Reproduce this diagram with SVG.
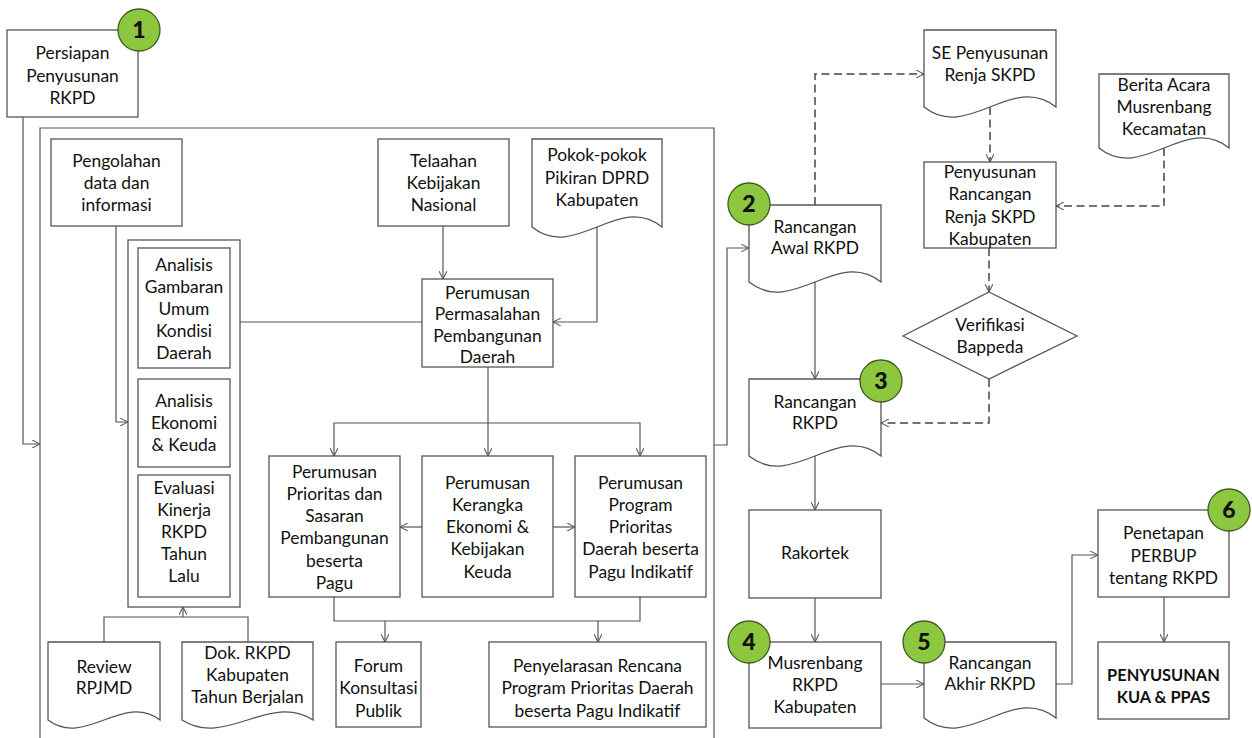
<svg xmlns="http://www.w3.org/2000/svg" width="1252" height="738" viewBox="0 0 1252 738">
<style>
.box{fill:#fff;stroke:#555;stroke-width:1.3}
.t{font-family:Lato,"Open Sans",sans-serif;font-size:17.4px;fill:#111;text-anchor:middle}
.b{font-weight:bold;font-size:16.4px}
.c{fill:#8dc63f;stroke:#3a5a1f;stroke-width:1.3}
.n{font-family:Lato,"Open Sans",sans-serif;font-weight:900;font-size:23px;text-anchor:middle;fill:#111}
.ln{fill:none;stroke:#555;stroke-width:1.2}
.ar{marker-end:url(#a)}
.d{stroke-dasharray:8 4.5;stroke:#444;stroke-width:1.5}
</style>
<defs>
<marker id="a" viewBox="0 0 10 10" refX="10" refY="5" markerWidth="8" markerHeight="8" markerUnits="userSpaceOnUse" orient="auto"><path d="M0,0 L10,5 L0,10" fill="none" stroke="#555" stroke-width="1.3"/></marker>
</defs>
<rect width="1252" height="738" fill="#fff"/>

<g id="container"><path class="ln" d="M40,745 V128 H714 V745" stroke-width="1.3"/></g>
<g id="inner-group"><rect class="box" x="128" y="240" width="112" height="367"/></g>

<g id="connectors">
<path class="ln ar" d="M23,117 V444 H40"/>
<path class="ln ar" d="M116,226 V422 H128"/>
<path class="ln" d="M240,322 H422"/>
<path class="ln ar" d="M443,226 V279"/>
<path class="ln ar" d="M597,224 V322 H553"/>
<path class="ln ar" d="M488,367 V456"/>
<path class="ln ar" d="M488,423 H334 V456"/>
<path class="ln ar" d="M488,423 H640 V456"/>
<path class="ln ar" d="M422,527 H400"/>
<path class="ln ar" d="M553,527 H575"/>
<path class="ln" d="M334,597 V621 H640 V597"/>
<path class="ln ar" d="M385,621 V642"/>
<path class="ln ar" d="M598,621 V642"/>
<path class="ln" d="M104,642 V617 H248 V642"/>
<path class="ln ar" d="M183,617 V607"/>
<path class="ln ar" d="M714,445 H727 V248 H749"/>
<path class="ln ar d" d="M815,205 V74 H924"/>
<path class="ln ar d" d="M990,107 V162"/>
<path class="ln ar d" d="M1164,148 V206 H1056"/>
<path class="ln ar d" d="M989,248 V292"/>
<path class="ln ar d" d="M989,379 V423 H881"/>
<path class="ln ar" d="M815,282 V379"/>
<path class="ln ar" d="M815,456 V510"/>
<path class="ln ar" d="M815,598 V642"/>
<path class="ln ar" d="M881,684 H924"/>
<path class="ln ar" d="M1056,684 H1072 V555 H1098"/>
<path class="ln ar" d="M1164,597 V642"/>
</g>

<g id="persiapan"><rect class="box" x="7" y="30" width="131" height="87"/>
<text class="t"><tspan x="72.5" y="59">Persiapan</tspan><tspan x="72.5" y="82">Penyusunan</tspan><tspan x="72.5" y="104">RKPD</tspan></text>
<circle class="c" cx="139" cy="30" r="21"/><text class="n" x="139" y="38">1</text></g>

<g id="pengolahan"><rect class="box" x="51" y="139" width="131" height="87"/>
<text class="t"><tspan x="116.5" y="167">Pengolahan</tspan><tspan x="116.5" y="189">data dan</tspan><tspan x="116.5" y="211">informasi</tspan></text></g>

<g id="telaahan"><rect class="box" x="378" y="139" width="131" height="87"/>
<text class="t"><tspan x="443.5" y="167">Telaahan</tspan><tspan x="443.5" y="189">Kebijakan</tspan><tspan x="443.5" y="211">Nasional</tspan></text></g>

<g id="pokok"><path class="box" d="M532,139 H662 V227 C618.7,192 575.3,262 532,227 Z"/>
<text class="t"><tspan x="597" y="161">Pokok-pokok</tspan><tspan x="597" y="184">Pikiran DPRD</tspan><tspan x="597" y="206">Kabupaten</tspan></text></g>

<g id="permasalahan"><rect class="box" x="422" y="279" width="131" height="88"/>
<text class="t"><tspan x="487.5" y="299">Perumusan</tspan><tspan x="487.5" y="320">Permasalahan</tspan><tspan x="487.5" y="342">Pembangunan</tspan><tspan x="487.5" y="363">Daerah</tspan></text></g>

<g id="gambaran"><rect class="box" x="138" y="248" width="92" height="120"/>
<text class="t"><tspan x="184" y="271">Analisis</tspan><tspan x="184" y="293">Gambaran</tspan><tspan x="184" y="315">Umum</tspan><tspan x="184" y="337">Kondisi</tspan><tspan x="184" y="359">Daerah</tspan></text></g>

<g id="ekonomi"><rect class="box" x="138" y="379" width="92" height="88"/>
<text class="t"><tspan x="184" y="407">Analisis</tspan><tspan x="184" y="429">Ekonomi</tspan><tspan x="184" y="451">&amp; Keuda</tspan></text></g>

<g id="evaluasi"><rect class="box" x="138" y="475" width="92" height="122"/>
<text class="t"><tspan x="184" y="494">Evaluasi</tspan><tspan x="184" y="516">Kinerja</tspan><tspan x="184" y="538">RKPD</tspan><tspan x="184" y="560">Tahun</tspan><tspan x="184" y="582">Lalu</tspan></text></g>

<g id="prioritas"><rect class="box" x="269" y="456" width="131" height="141"/>
<text class="t"><tspan x="334.5" y="478">Perumusan</tspan><tspan x="334.5" y="500">Prioritas dan</tspan><tspan x="334.5" y="522">Sasaran</tspan><tspan x="334.5" y="544">Pembangunan</tspan><tspan x="334.5" y="567">beserta</tspan><tspan x="334.5" y="589">Pagu</tspan></text></g>

<g id="kerangka"><rect class="box" x="422" y="456" width="131" height="141"/>
<text class="t"><tspan x="487.5" y="489">Perumusan</tspan><tspan x="487.5" y="511">Kerangka</tspan><tspan x="487.5" y="533">Ekonomi &amp;</tspan><tspan x="487.5" y="555">Kebijakan</tspan><tspan x="487.5" y="578">Keuda</tspan></text></g>

<g id="program"><rect class="box" x="575" y="456" width="131" height="141"/>
<text class="t"><tspan x="640.5" y="489">Perumusan</tspan><tspan x="640.5" y="511">Program</tspan><tspan x="640.5" y="533">Prioritas</tspan><tspan x="640.5" y="555">Daerah beserta</tspan><tspan x="640.5" y="578">Pagu Indikatif</tspan></text></g>

<g id="review"><path class="box" d="M48,642 H160 V720 C122.7,692 85.3,748 48,720 Z"/>
<text class="t"><tspan x="104" y="673">Review</tspan><tspan x="104" y="694">RPJMD</tspan></text></g>

<g id="dok"><path class="box" d="M182,642 H313 V720 C269.3,692 225.7,748 182,720 Z"/>
<text class="t"><tspan x="247.5" y="659">Dok. RKPD</tspan><tspan x="247.5" y="681">Kabupaten</tspan><tspan x="247.5" y="703">Tahun Berjalan</tspan></text></g>

<g id="forum"><rect class="box" x="336" y="642" width="85" height="85"/>
<text class="t"><tspan x="378.5" y="672">Forum</tspan><tspan x="378.5" y="694">Konsultasi</tspan><tspan x="378.5" y="717">Publik</tspan></text></g>

<g id="penyelarasan"><rect class="box" x="489" y="642" width="217" height="85"/>
<text class="t"><tspan x="597.5" y="672">Penyelarasan Rencana</tspan><tspan x="597.5" y="694">Program Prioritas Daerah</tspan><tspan x="597.5" y="717">beserta Pagu Indikatif</tspan></text></g>

<g id="rancangan-awal"><path class="box" d="M749,205 H881 V282 C837,247 793,317 749,282 Z"/>
<text class="t"><tspan x="815" y="233">Rancangan</tspan><tspan x="815" y="254">Awal RKPD</tspan></text>
<circle class="c" cx="749" cy="204" r="21"/><text class="n" x="749" y="212">2</text></g>

<g id="se"><path class="box" d="M924,30 H1056 V107 C1012,72 968,142 924,107 Z"/>
<text class="t"><tspan x="990" y="59">SE Penyusunan</tspan><tspan x="990" y="81">Renja SKPD</tspan></text></g>

<g id="berita"><path class="box" d="M1099,74 H1229 V148 C1185.7,113 1142.3,183 1099,148 Z"/>
<text class="t"><tspan x="1164" y="91">Berita Acara</tspan><tspan x="1164" y="113">Musrenbang</tspan><tspan x="1164" y="135">Kecamatan</tspan></text></g>

<g id="renja"><rect class="box" x="924" y="162" width="132" height="86"/>
<text class="t"><tspan x="990" y="178">Penyusunan</tspan><tspan x="990" y="200">Rancangan</tspan><tspan x="990" y="223">Renja SKPD</tspan><tspan x="990" y="245">Kabupaten</tspan></text></g>

<g id="verifikasi"><path class="box" d="M989,292 L1077,336 L989,379 L903,336 Z"/>
<text class="t"><tspan x="990" y="331">Verifikasi</tspan><tspan x="990" y="353">Bappeda</tspan></text></g>

<g id="rancangan-rkpd"><path class="box" d="M749,379 H881 V456 C837,421 793,491 749,456 Z"/>
<text class="t"><tspan x="815" y="408">Rancangan</tspan><tspan x="815" y="429">RKPD</tspan></text>
<circle class="c" cx="881" cy="381" r="21"/><text class="n" x="881" y="389">3</text></g>

<g id="rakortek"><rect class="box" x="749" y="510" width="132" height="88"/>
<text class="t" x="815" y="559">Rakortek</text></g>

<g id="musrenbang"><rect class="box" x="749" y="642" width="132" height="86"/>
<text class="t"><tspan x="815" y="669">Musrenbang</tspan><tspan x="815" y="691">RKPD</tspan><tspan x="815" y="713">Kabupaten</tspan></text>
<circle class="c" cx="749" cy="642" r="21"/><text class="n" x="749" y="650">4</text></g>

<g id="rancangan-akhir"><path class="box" d="M924,642 H1056 V718 C1012,683 968,753 924,718 Z"/>
<text class="t"><tspan x="990" y="669">Rancangan</tspan><tspan x="990" y="690">Akhir RKPD</tspan></text>
<circle class="c" cx="924" cy="642" r="21"/><text class="n" x="924" y="650">5</text></g>

<g id="penetapan"><rect class="box" x="1098" y="510" width="131" height="87"/>
<text class="t"><tspan x="1163.5" y="539">Penetapan</tspan><tspan x="1163.5" y="562">PERBUP</tspan><tspan x="1163.5" y="584">tentang RKPD</tspan></text>
<circle class="c" cx="1229" cy="510" r="21"/><text class="n" x="1229" y="518">6</text></g>

<g id="kua-ppas"><rect class="box" x="1098" y="642" width="131" height="77"/>
<text class="t b"><tspan x="1163.5" y="681">PENYUSUNAN</tspan><tspan x="1163.5" y="703">KUA &amp; PPAS</tspan></text></g>
</svg>
